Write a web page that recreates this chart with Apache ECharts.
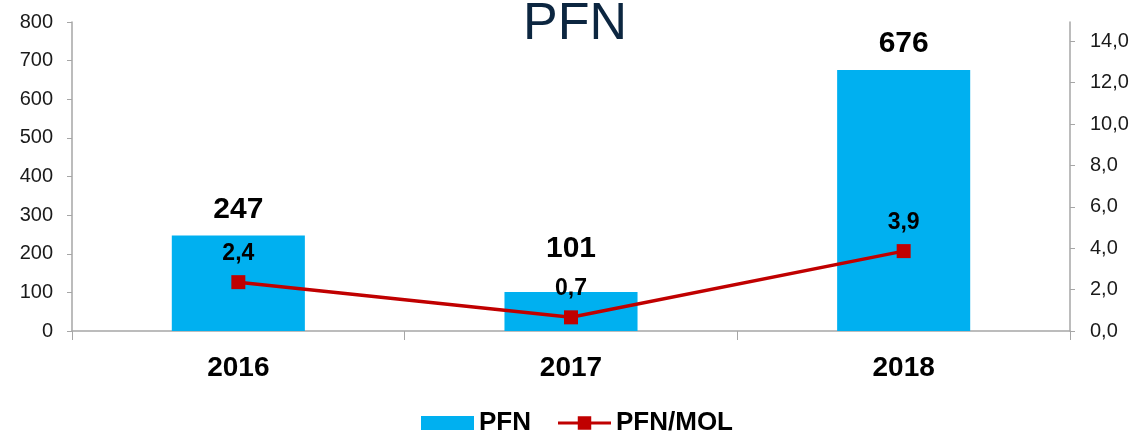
<!DOCTYPE html>
<html>
<head>
<meta charset="utf-8">
<script src="https://cdn.jsdelivr.net/npm/echarts@6/dist/echarts.min.js"></script>
<style>
  html, body { margin: 0; padding: 0; background: #fff; }
  #chart { width: 1133px; height: 431px; }
</style>
</head>
<body>
<div id="chart"></div>
<script>
const years = ['2016', '2017', '2018'];
const pfn = [247, 101, 676];
const pfnMol = [2.36, 0.66, 3.86];
const rightTicks = [0, 2, 4, 6, 8, 10, 12, 14];
// label of 2017 bar is lifted so it clears the line label
const barLabelLift = [0, 17, 0];

const chart = echarts.init(document.getElementById('chart'), null, { renderer: 'canvas' });
const font = 'Liberation Sans, Arial, sans-serif';

function comma(v, d) {
  return v.toFixed(d).replace('.', ',');
}

var option = {
  textStyle: { fontFamily: font },
  title: {
    text: 'PFN',
    left: 518,
    top: -6,
    textStyle: { fontFamily: font, fontSize: 52, fontWeight: 'normal', color: '#0c2640' }
  },
  legend: {
    data: [
      { name: 'PFN', icon: 'rect' },
      { name: 'PFN/MOL', icon: 'path://M0,5.5H20.5V0H34.5V5.5H55V8.5H34.5V14H20.5V8.5H0Z', itemStyle: { color: '#c00000' } }
    ],
    left: 416,
    top: 405,
    itemWidth: 53,
    itemHeight: 14,
    itemGap: 27,
    textStyle: { fontFamily: font, fontSize: 26, fontWeight: 'bold', color: '#000' }
  },
  grid: {
    left: 72,
    right: 63,
    top: 22,
    bottom: 100
  },
  xAxis: {
    type: 'category',
    data: years,
    axisLine: { lineStyle: { color: '#a6a6a6', width: 1.5 } },
    axisTick: { show: true, length: 9, lineStyle: { color: '#a6a6a6' } },
    axisLabel: { fontFamily: font, fontSize: 28, fontWeight: 'bold', color: '#000', margin: 23 }
  },
  yAxis: [{
    type: 'value',
    min: 0,
    max: 800,
    interval: 100,
    splitLine: { show: false },
    axisLine: { show: true, lineStyle: { color: '#a6a6a6', width: 1.5 } },
    axisTick: { show: true, length: 5, lineStyle: { color: '#a6a6a6' } },
    axisLabel: { fontFamily: font, fontSize: 20, color: '#1a1a1a', margin: 19 }
  }, {
    type: 'value',
    min: 0,
    max: 14.93,
    interval: 2,
    position: 'right',
    splitLine: { show: false },
    axisLine: { show: true, lineStyle: { color: '#a6a6a6', width: 1.5 } },
    axisTick: { show: true, length: 5, customValues: rightTicks, lineStyle: { color: '#a6a6a6' } },
    axisLabel: {
      fontFamily: font, fontSize: 20, color: '#1a1a1a', margin: 20,
      customValues: rightTicks,
      formatter: function (v) { return comma(v, 1); }
    }
  }],
  series: [{
    name: 'PFN',
    type: 'bar',
    data: pfn.map(function (v, i) {
      return { value: v, label: { distance: 11 + barLabelLift[i] } };
    }),
    barWidth: '40%',
    itemStyle: { color: '#00b0f0' },
    label: {
      show: true,
      position: 'top',
      distance: 11,
      fontFamily: font,
      fontSize: 30,
      fontWeight: 'bold',
      color: '#000'
    }
  }, {
    name: 'PFN/MOL',
    type: 'line',
    yAxisIndex: 1,
    data: pfnMol,
    symbol: 'rect',
    symbolSize: 14,
    lineStyle: { color: '#c00000', width: 3.5 },
    itemStyle: { color: '#c00000' },
    label: {
      show: true,
      position: 'top',
      distance: 10,
      fontFamily: font,
      fontSize: 23,
      fontWeight: 'bold',
      color: '#000',
      formatter: function (p) { return comma(p.value, 1); }
    }
  }]
};

chart.setOption(option);
</script>
</body>
</html>
